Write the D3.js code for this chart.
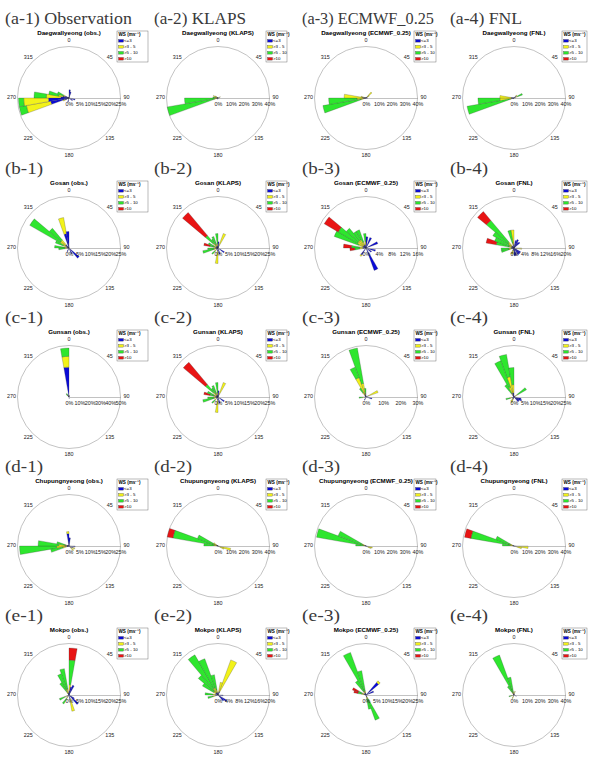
<!DOCTYPE html>
<html>
<head>
<meta charset="utf-8">
<script src="https://cdn.jsdelivr.net/npm/d3@7"></script>
<style>
  body { margin: 0; background: #fff; }
  text { font-family: Arial, "Liberation Sans", sans-serif; }
</style>
</head>
<body>
<script>
// wind rose frequencies (%) per 10-degree bin: [bin centre, <=3, >3-5, >5-10, >10]
const daegwallyeongObs = [
  [255, 9, 12, 3.5, 0], [265, 10, 12, 2.5, 0], [275, 4, 7, 6, 0], [285, 3, 2, 5, 0],
  [295, 2, 1, 3, 0], [5, 4, 0, 0, 0], [15, 3, 0, 0, 0], [105, 3, 0, 0, 0],
  [125, 2, 0, 0, 0], [195, 2, 0, 0, 0], [245, 2, 1, 0, 0]
];
const daegwallyeongKlaps = [
  [255, 1, 2, 37, 0], [265, 1, 2, 23, 0], [275, 1, 1, 2, 0], [295, 1, 3, 0, 0],
  [305, 0.5, 2, 0, 0], [65, 1, 1, 0, 0], [115, 1, 0, 0, 0], [195, 1, 0, 0, 0]
];
const daegwallyeongEcmwf = [
  [255, 1, 3, 30, 0], [265, 2, 5, 22, 0], [275, 3, 14, 0, 0], [285, 1, 3, 0, 0],
  [45, 1, 5, 0, 0], [55, 1, 2, 0, 0], [95, 1, 0, 0, 0], [105, 1, 0, 0, 0]
];
const daegwallyeongFnl = [
  [255, 1, 2, 34, 0], [265, 2, 9, 17, 0], [275, 2, 9, 0, 0], [65, 1, 2, 4, 0],
  [45, 2, 1, 0, 0], [95, 1, 0, 0, 0], [225, 1, 0, 0, 0]
];
const gosanObs = [
  [305, 2, 3, 17, 0], [315, 2, 3, 7.5, 0], [295, 1, 2, 4, 0], [345, 7, 8, 0, 0],
  [355, 8, 0, 0, 0], [275, 1, 1, 5, 0], [265, 1, 1, 3, 0], [135, 6.5, 0, 0, 0],
  [155, 3, 0, 0, 0], [205, 2, 0, 0, 0]
];
const gosanKlaps = [
  [315, 1, 2, 5, 14.5], [355, 1, 1, 5, 0], [25, 1, 6.5, 0, 0], [5, 3, 0, 0, 0],
  [285, 1, 1, 2, 3], [295, 1, 1, 3, 0], [325, 1, 1, 3, 0], [335, 1, 1, 4, 0],
  [255, 1, 1, 5.5, 0], [265, 1, 1, 3, 0], [185, 1.5, 6, 0, 0], [125, 3.6, 0, 0, 0],
  [165, 3, 0, 0, 0], [225, 1, 1, 2, 0]
];
const gosanEcmwf = [
  [295, 1, 1.5, 8, 0], [305, 1, 2, 7, 5], [315, 1, 2, 5, 0], [325, 1, 2, 3, 0],
  [275, 1, 1, 2.5, 2.5], [265, 1, 1, 1.5, 1.5], [335, 1, 1, 4, 0], [355, 1, 1, 2.5, 0],
  [155, 7.4, 0, 0, 0], [65, 3.9, 0, 0, 0], [25, 3.5, 0, 0, 0], [105, 3, 0, 0, 0],
  [5, 3.5, 0, 0, 0], [215, 2.5, 0.5, 0, 0], [125, 2, 0, 0, 0]
];
const gosanFnl = [
  [315, 1, 2, 11, 4.5], [285, 1, 1, 5, 4], [305, 1, 1.5, 7, 0], [295, 1, 1, 6, 0],
  [355, 1.5, 5.5, 0, 0], [345, 1, 1, 5, 0], [15, 3, 0, 0, 0], [25, 3.5, 0, 0, 0],
  [35, 2.5, 0, 0, 0], [45, 3, 0, 0, 0], [95, 1, 2, 0, 0], [125, 3, 0, 0, 0],
  [135, 3, 0, 0, 0], [145, 3, 0, 0, 0], [165, 3, 0, 0, 0], [175, 3, 0, 0, 0],
  [195, 1, 1.5, 0, 0], [205, 1, 1.5, 0, 0], [255, 1, 1, 3, 0], [265, 1, 1, 3, 0]
];
const gunsanObs = [
  [355, 29, 10.5, 8, 0], [325, 1, 1, 2, 0], [315, 1, 1, 1.5, 0], [345, 1.5, 0, 0, 0],
  [15, 1.5, 0, 0, 0], [175, 1.5, 0, 0, 0]
];
const gunsanKlaps = [
  [315, 1, 2, 5, 14], [355, 1, 1, 5, 0], [25, 1, 6.5, 0, 0], [5, 3, 0, 0, 0],
  [285, 1, 1, 2, 3], [295, 1, 1, 3.5, 0], [325, 1, 1, 3, 0], [335, 1, 1, 4, 0],
  [255, 1, 1, 5.5, 0], [265, 1, 1, 3, 0], [185, 1.5, 6, 0, 0], [125, 3.6, 0, 0, 0],
  [165, 3, 0, 0, 0], [225, 1, 1, 2, 0]
];
const gunsanEcmwf = [
  [345, 2, 6, 21, 0], [335, 2, 10, 6.5, 0], [325, 1, 2, 3, 0], [355, 1, 1, 3, 0],
  [65, 1.5, 6, 0, 0], [105, 3.5, 0, 0, 0], [265, 1, 1, 2, 0], [205, 2, 0, 0, 0]
];
const gunsanFnl = [
  [345, 2, 8, 11, 0], [355, 2, 4, 8.3, 0], [335, 2, 3, 13.7, 0], [325, 1, 1, 5, 0],
  [55, 1, 1, 5, 0], [105, 3.5, 0, 0, 0], [115, 4, 0, 0, 0], [125, 3, 0, 0, 0],
  [135, 3, 0, 0, 0], [205, 1, 2, 0, 0], [215, 1, 1.5, 0, 0], [255, 1, 1, 2, 0]
];
const chupungnyeongObs = [
  [265, 2, 4, 18, 0], [275, 2, 3, 10, 0], [255, 1, 2, 6, 0], [285, 1, 1, 4, 0],
  [355, 6, 1, 0, 0], [5, 4, 0, 0, 0], [95, 3, 0, 0, 0], [115, 2, 1, 0, 0],
  [135, 1, 2, 0, 0]
];
const chupungnyeongKlaps = [
  [285, 1, 3, 31.5, 4.5], [295, 1, 2, 14, 0], [275, 1, 2, 8, 0], [105, 1, 9, 0, 0],
  [115, 1, 4, 0, 0], [305, 1, 3, 0, 0]
];
const chupungnyeongEcmwf = [
  [285, 1, 2, 36, 0], [295, 1, 2, 20, 0], [275, 1, 1, 6, 0], [105, 1, 4, 0, 0],
  [115, 1, 3, 0, 0]
];
const chupungnyeongFnl = [
  [285, 1, 3, 30, 5], [295, 1, 2, 12, 0], [275, 1, 2, 6, 0], [95, 2, 9, 0, 0],
  [105, 1, 5, 0, 0]
];
const mokpoObs = [
  [5, 2, 3, 12, 5.8], [345, 1, 2, 10, 0], [335, 1, 2, 8, 0], [325, 1, 1, 5, 0],
  [15, 4, 0, 0, 0], [25, 5, 0, 0, 0], [135, 6, 0, 0, 0], [125, 3, 0, 0, 0],
  [165, 2, 6, 0, 0], [215, 1, 1, 3, 0], [245, 1, 1, 3, 0]
];
const mokpoKlaps = [
  [325, 1, 2, 15, 0], [335, 1, 2, 12, 0], [315, 1, 1, 8, 0], [305, 1, 1, 5, 0],
  [345, 1, 1, 6, 0], [25, 1.5, 13, 0, 0], [15, 1, 4, 0, 0], [125, 4, 0, 0, 0],
  [135, 3, 0, 0, 0], [95, 2, 0, 0, 0], [275, 1, 1, 3, 0], [255, 1, 1, 2, 0]
];
const mokpoEcmwf = [
  [335, 1, 1, 20, 0], [345, 1, 1, 10, 0], [325, 1, 1, 6, 0], [155, 1, 1, 11, 0],
  [165, 1, 1, 5, 0], [295, 1, 1, 2, 3], [285, 1, 1, 2, 2], [45, 8, 1, 0, 0],
  [65, 4, 0, 0, 0]
];
const mokpoFnl = [
  [335, 1, 2, 30, 0], [345, 1, 1, 12, 0], [325, 1, 1, 6, 0], [15, 1, 2, 0, 0],
  [115, 2, 0, 0, 0], [205, 1, 2, 0, 0], [255, 1, 1, 2, 0]
];

const stationNames = ["Daegwallyeong", "Gosan", "Gunsan", "Chupungnyeong", "Mokpo"];
const sourceTags = ["obs.", "KLAPS", "ECMWF_0.25", "FNL"];
const columnNames = ["Observation", "KLAPS", "ECMWF_0.25", "FNL"];
const rowLetters = ["a", "b", "c", "d", "e"];
const radialMax = [[25, 40, 40, 40], [25, 25, 16, 20], [50, 25, 30, 25], [25, 40, 40, 40], [25, 20, 25, 40]];
const tickStep = [[5, 10, 10, 10], [5, 5, 4, 4], [10, 5, 10, 5], [5, 10, 10, 10], [5, 4, 5, 10]];
const speedClasses = ["<=3", ">3 - 5", ">5 - 10", ">10"];
const directionLabels = [0, 45, 90, 135, 180, 225, 270, 315];

const roseData = [
  [daegwallyeongObs, daegwallyeongKlaps, daegwallyeongEcmwf, daegwallyeongFnl],
  [gosanObs, gosanKlaps, gosanEcmwf, gosanFnl],
  [gunsanObs, gunsanKlaps, gunsanEcmwf, gunsanFnl],
  [chupungnyeongObs, chupungnyeongKlaps, chupungnyeongEcmwf, chupungnyeongFnl],
  [mokpoObs, mokpoKlaps, mokpoEcmwf, mokpoFnl]
];

const colors = ["#0a0ad8", "#f2f21a", "#2ee62e", "#e81414"];
const colX = [69, 218, 366, 514];
const rowY = [98, 248, 397, 546, 695];
const R = 51.5;
const binWidth = 10;
const legendW = [31, 21, 22, 25];
// widths of the header labels as drawn in the source figure
const headerLen = [127, 92, 132, 72];

const svg = d3.select("body").append("svg")
  .attr("width", 603).attr("height", 757)
  .style("display", "block");

const arc = d3.arc();

rowLetters.forEach((letter, i) => {
  colX.forEach((cx, j) => {
    const g = svg.append("g").attr("transform", `translate(${cx},${rowY[i]})`);
    const max = radialMax[i][j];
    const r = d3.scaleLinear().domain([0, max]).range([0, R]);

    // panel label
    g.append("text")
      .attr("x", -64).attr("y", -74)
      .style("font-family", "'Liberation Serif', serif")
      .style("font-size", "17.5px")
      .attr("fill", "#3a3a3a")
      .attr("textLength", i === 0 ? headerLen[j] : 38)
      .attr("lengthAdjust", "spacingAndGlyphs")
      .text(i === 0 ? `(${letter}-${j + 1}) ${columnNames[j]}` : `(${letter}-${j + 1})`);

    // station title
    g.append("text")
      .attr("x", 0).attr("y", -63)
      .attr("text-anchor", "middle")
      .style("font-size", "6.2px").style("font-weight", "bold")
      .text(`${stationNames[i]} (${sourceTags[j]})`);

    g.append("circle").attr("r", R)
      .attr("fill", "none").attr("stroke", "#9a9a9a").attr("stroke-width", 0.6);

    // wedges
    roseData[i][j].forEach(row => {
      const dir = row[0];
      let cum = 0;
      row.slice(1).forEach((v, k) => {
        if (v <= 0) return;
        g.append("path")
          .attr("d", arc({
            innerRadius: r(cum),
            outerRadius: r(cum + v),
            startAngle: (dir - binWidth / 2) * Math.PI / 180,
            endAngle: (dir + binWidth / 2) * Math.PI / 180
          }))
          .attr("fill", colors[k])
          .attr("stroke", "#333").attr("stroke-width", 0.25);
        cum += v;
      });
    });

    // radial axis
    const ax = g.append("g")
      .call(d3.axisBottom(r)
        .tickValues(d3.range(0, max + tickStep[i][j] / 2, tickStep[i][j]))
        .tickSize(0).tickPadding(4)
        .tickFormat(d => d + "%"));
    ax.select(".domain").attr("stroke", "#999").attr("stroke-width", 0.6);
    ax.selectAll("text").style("font-size", "5.4px").attr("fill", "#222");

    // compass labels
    directionLabels.forEach(d => {
      const a = d * Math.PI / 180;
      g.append("text")
        .attr("x", Math.sin(a) * 57.5)
        .attr("y", -Math.cos(a) * 57.5)
        .attr("text-anchor", "middle")
        .attr("dominant-baseline", "middle")
        .style("font-size", "5.4px")
        .attr("fill", "#222")
        .text(d);
    });

    // legend
    const lg = g.append("g").attr("transform", "translate(48,-67)");
    lg.append("rect")
      .attr("width", legendW[j]).attr("height", 31)
      .attr("fill", "#fff").attr("stroke", "#555").attr("stroke-width", 0.4);
    lg.append("text").attr("x", 1.5).attr("y", 5)
      .style("font-size", "4.6px").style("font-weight", "bold")
      .text("WS (ms⁻¹)");
    speedClasses.forEach((s, k) => {
      lg.append("rect")
        .attr("x", 1.5).attr("y", 8.5 + k * 6)
        .attr("width", 5).attr("height", 2.6)
        .attr("fill", colors[k]).attr("stroke", "#333").attr("stroke-width", 0.3);
      lg.append("text")
        .attr("x", 7).attr("y", 11.3 + k * 6)
        .style("font-size", "4.4px")
        .text(s);
    });
  });
});
</script>
</body>
</html>
